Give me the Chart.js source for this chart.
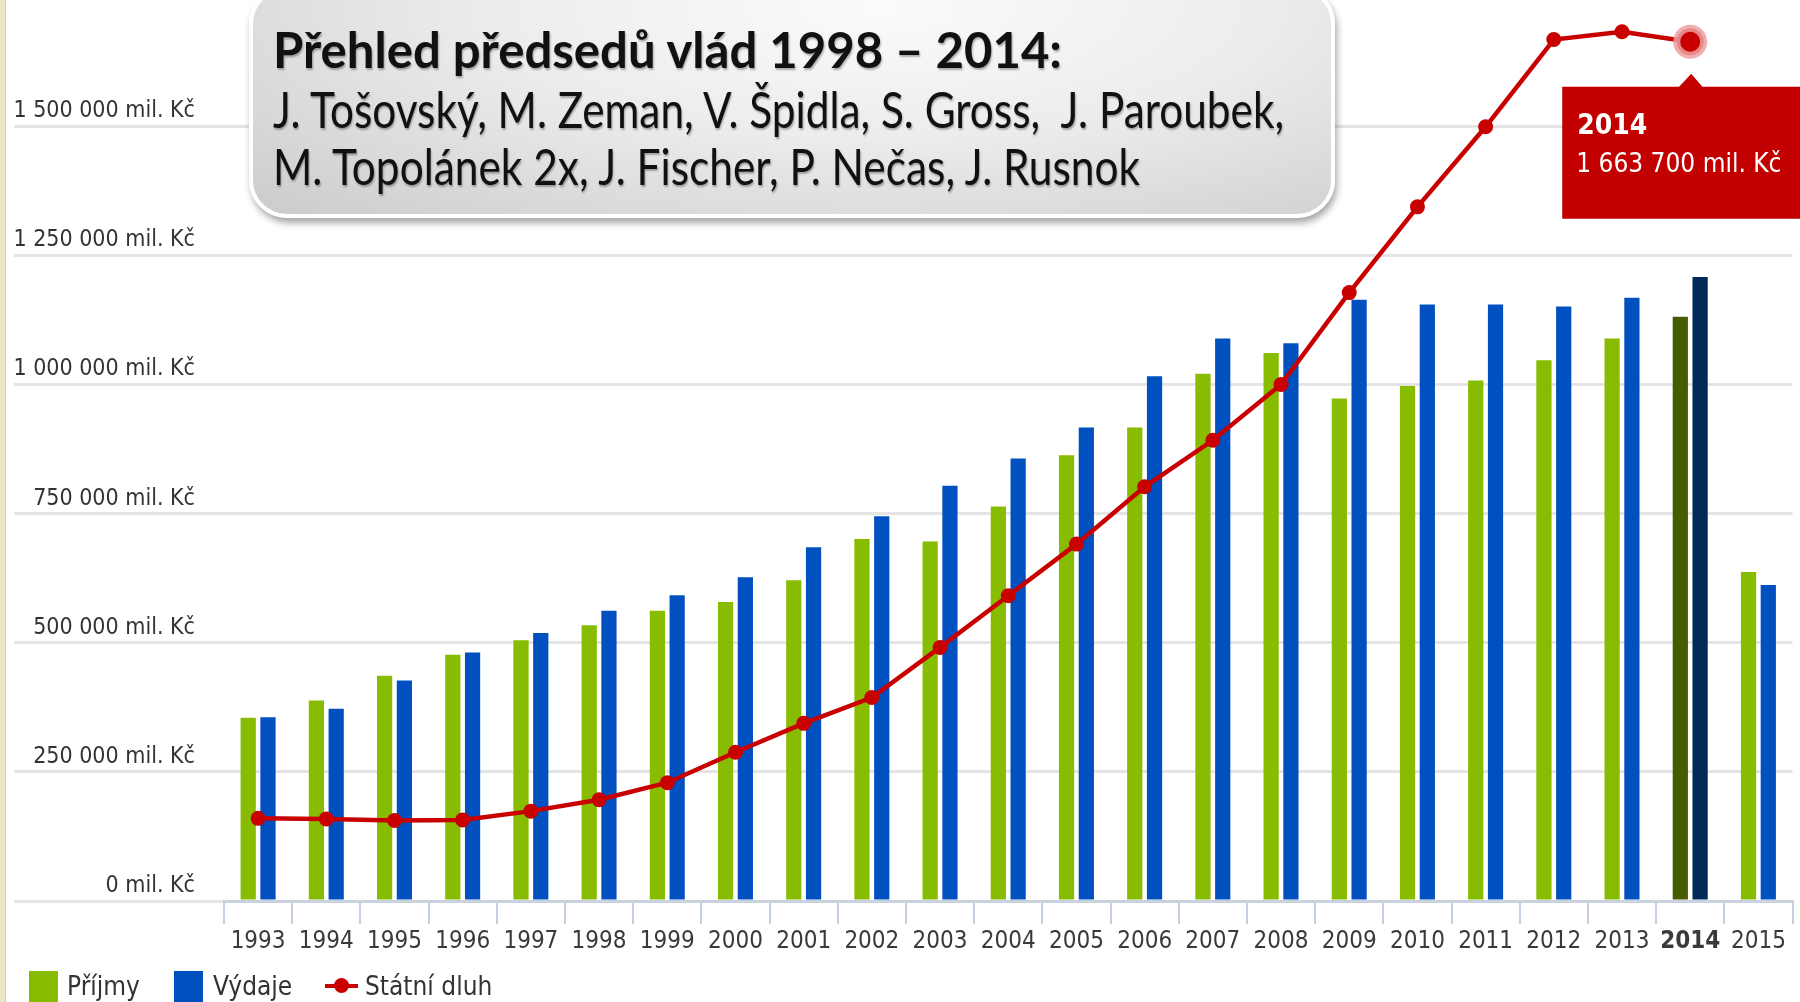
<!DOCTYPE html>
<html>
<head>
<meta charset="utf-8">
<script src="https://cdn.jsdelivr.net/npm/chart.js@4.4.1/dist/chart.umd.min.js"></script>
<style>
  body { margin: 0; width: 1800px; height: 1002px; overflow: hidden; background: #fff; position: relative; }
  #wrap { position: absolute; left: 0; top: 0; width: 1800px; height: 1002px; }
  #edge { position: absolute; left: 0; top: 0; width: 5px; height: 1002px; background: #efe4c8; border-right: 1px solid #dccca4; }
  #box { position: absolute; left: 249px; top: -14px; width: 1078px; height: 224px; border: 4px solid #fff; border-radius: 38px;
         background: radial-gradient(ellipse at 58% 8%, #fbfbfb 0%, #ececec 45%, #cbcbcb 100%);
         box-shadow: 2px 5px 7px rgba(0,0,0,0.35); }
  .tl { position: absolute; left: 273px; white-space: nowrap; font-family: Lato, 'Open Sans', sans-serif; font-size: 50px; line-height: 58px;
        color: #111; text-shadow: 1px 2px 2px rgba(0,0,0,0.3); transform-origin: 0 50%; }
  #t1 { top: 20px; font-weight: bold; }
  #t2 { top: 80px; }
  #t3 { top: 137px; }
  .lg { position: absolute; top: 969px; font-family: 'DejaVu Sans Condensed', sans-serif; font-size: 26px; color: #333; line-height: 34px; }
  .sq { position: absolute; top: 971px; width: 29px; height: 31px; }
</style>
</head>
<body>
<div id="wrap"><canvas id="Chart"></canvas></div>
<div id="edge"></div>
<div id="box"></div>
<div class="tl" id="t1">Přehled předsedů vlád 1998 – 2014:</div>
<div class="tl" id="t2">J. Tošovský, M. Zeman, V. Špidla, S. Gross,&nbsp; J. Paroubek,</div>
<div class="tl" id="t3">M. Topolánek 2x, J. Fischer, P. Nečas, J. Rusnok</div>
<div class="sq" style="left:29px;background:#88bc00"></div>
<div class="lg" style="left:67px">Příjmy</div>
<div class="sq" style="left:174px;background:#0050c0"></div>
<div class="lg" style="left:213px">Výdaje</div>
<div style="position:absolute;left:325px;top:984px;width:33px;height:4px;background:#c80000"></div>
<div style="position:absolute;left:334px;top:978px;width:15px;height:15px;border-radius:50%;background:#c80000"></div>
<div class="lg" style="left:365px">Státní dluh</div>
<script>
const ctx = document.getElementById('Chart').getContext('2d');
const font = "'DejaVu Sans Condensed', sans-serif";

// roky
const years = ['1993', '1994', '1995', '1996', '1997', '1998', '1999', '2000', '2001', '2002', '2003', '2004',
    '2005', '2006', '2007', '2008', '2009', '2010', '2011', '2012', '2013', '2014', '2015'];
// mil. Kč
const prijmy = [355000, 388000, 436000, 477000, 505000, 534000, 562000, 579000, 621000, 701000, 696000, 764000,
    863000, 917000, 1021000, 1061000, 973000, 997000, 1008000, 1047000, 1089000, 1131000, 637000];
const vydaje = [356000, 372000, 427000, 481000, 519000, 562000, 592000, 627000, 685000, 745000, 804000, 857000,
    917000, 1016000, 1089000, 1080000, 1164000, 1155000, 1155000, 1151000, 1168000, 1208000, 612000];
const dluh = [160000, 159000, 156000, 157000, 174000, 196000, 229000, 288000, 344000, 394000, 491000, 591000,
    691000, 802000, 892000, 1000000, 1178000, 1344000, 1499000, 1668000, 1683000, 1663700, null];
const yTicks = [0, 250000, 500000, 750000, 1000000, 1250000, 1500000];
const yMax = 1730000;
const hlYear = '2014';
const hl = years.indexOf(hlYear);

function fmt(v) {
    return String(v).replace(/\B(?=(\d{3})+(?!\d))/g, ' ');
}

// tooltip u bodu 2014
const tipBox = {
    id: 'tipBox',
    afterDatasetsDraw(chart) {
        const pt = chart.getDatasetMeta(2).data[hl];
        const x = pt.x, y = pt.y;
        const c = chart.ctx;
        const left = x - 128, top = y + 45;
        c.save();
        c.fillStyle = '#c20000';
        c.fillRect(left, top, 300, 132);
        c.beginPath();
        c.moveTo(x - 12, top + 1);
        c.lineTo(x + 1, top - 13);
        c.lineTo(x + 13, top + 1);
        c.closePath();
        c.fill();
        c.fillStyle = '#fff';
        c.textBaseline = 'middle';
        c.textAlign = 'left';
        c.font = 'bold 28px ' + font;
        c.fillText(years[hl], left + 15, top + 40);
        c.font = '26px ' + font;
        c.fillText(fmt(dluh[hl]) + ' mil. Kč', left + 14, top + 79);
        c.restore();
    }
};

const myChart = new Chart(ctx, {
    type: 'bar',
    data: {
        labels: years,
        datasets: [{
            label: 'Příjmy',
            data: prijmy,
            backgroundColor: years.map(y => y === hlYear ? '#475b00' : '#88bc00'),
            categoryPercentage: 0.58,
            barPercentage: 0.77,
            order: 1
        }, {
            label: 'Výdaje',
            data: vydaje,
            backgroundColor: years.map(y => y === hlYear ? '#002858' : '#0050c0'),
            categoryPercentage: 0.58,
            barPercentage: 0.77,
            order: 1
        }, {
            type: 'line',
            label: 'Státní dluh',
            data: dluh,
            borderColor: '#c80000',
            backgroundColor: '#c80000',
            borderWidth: 4.5,
            tension: 0,
            clip: false,
            pointRadius: c => c.dataIndex === hl ? 13.5 : 7.5,
            pointBorderWidth: c => c.dataIndex === hl ? 7 : 0,
            pointBorderColor: 'rgba(236,160,160,0.85)',
            order: 0
        }]
    },
    options: {
        responsive: true,
        maintainAspectRatio: false,
        animation: false,
        layout: { padding: { left: 0, right: 0, top: 0, bottom: 41 } },
        plugins: {
            legend: { display: false },
            tooltip: { enabled: false }
        },
        scales: {
            x: {
                grid: { drawOnChartArea: false, drawTicks: true, tickLength: 23, color: '#c3d0df', lineWidth: 2 },
                border: { display: true, color: '#c8d3df', width: 3 },
                ticks: {
                    padding: 3,
                    color: '#3a3a3a',
                    autoSkip: false,
                    maxRotation: 0,
                    font: c => ({ family: font, size: 24, weight: years[c.index] === hlYear ? 'bold' : 'normal' })
                },
                afterFit: s => { s.height = 60; }
            },
            y: {
                min: 0,
                max: yMax,
                grid: { color: '#e4e4e4', lineWidth: 3, drawTicks: true, tickLength: 210 },
                border: { display: false },
                ticks: {
                    autoSkip: false,
                    padding: -181,
                    labelOffset: -15,
                    color: '#333',
                    font: { family: font, size: 23 },
                    callback: v => fmt(v) + ' mil. Kč'
                },
                afterBuildTicks: s => { s.ticks = yTicks.map(v => ({ value: v })); },
                afterFit: s => { s.width = 224; }
            }
        }
    },
    plugins: [tipBox]
});

// přizpůsobit šířku řádků nadpisu
[['t1', 789], ['t2', 1011], ['t3', 867]].forEach(([id, w]) => {
    const el = document.getElementById(id);
    const cur = el.getBoundingClientRect().width;
    el.style.transform = 'scaleX(' + (w / cur) + ')';
});
</script>
</body>
</html>
